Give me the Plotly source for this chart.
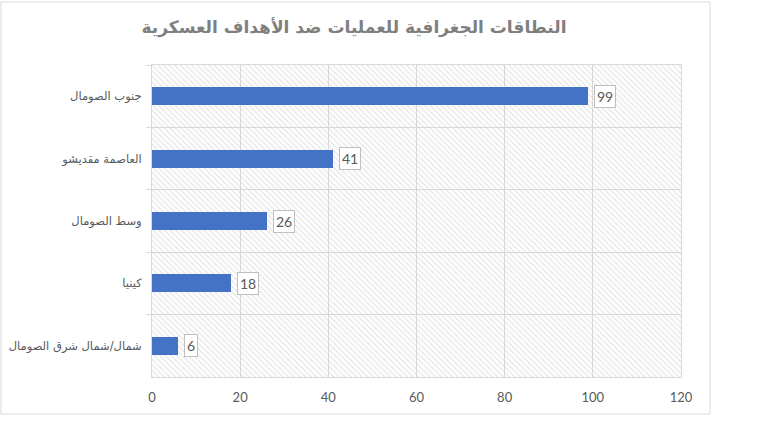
import plotly.graph_objects as go

categories = ["جنوب الصومال", "العاصمة مقديشو", "وسط الصومال", "كينيا", "شمال/شمال شرق الصومال"]
values = [99, 41, 26, 18, 6]
x_ticks = [0, 20, 40, 60, 80, 100, 120]
x_max = 120
title_text = "النطاقات الجغرافية للعمليات ضد الأهداف العسكرية"

W, H = 768, 432
L, R, T, B = 152, 87, 65, 55
pw, ph = W - L - R, H - T - B

fig = go.Figure()

# hatched background band for each category
fig.add_trace(go.Bar(
    y=categories, x=[x_max] * len(categories), orientation="h", width=1,
    marker=dict(color="rgba(0,0,0,0)", line=dict(width=0),
                pattern=dict(shape="\\", fgcolor="#cfcfcf", bgcolor="rgba(0,0,0,0)",
                             size=4, solidity=0.35)),
    hoverinfo="skip", showlegend=False,
))

fig.add_trace(go.Bar(
    y=categories, x=values, orientation="h", width=0.29,
    marker=dict(color="#4472C4", line=dict(width=0)),
    showlegend=False,
))

for c, v in zip(categories, values):
    fig.add_annotation(x=v, y=c, text=str(v), showarrow=False, xanchor="left",
                       xshift=6, bgcolor="white", bordercolor="#bfbfbf", borderwidth=1,
                       borderpad=2, font=dict(family="Lato, Open Sans", size=14, color="#595959"))

def px_x(p):
    return (p - L) / pw

def px_y(p):
    return (H - B - p) / ph

fig.add_shape(type="rect", xref="paper", yref="paper",
              x0=px_x(1), x1=px_x(710), y0=px_y(414), y1=px_y(2),
              line=dict(color="#d9d9d9", width=1), fillcolor="rgba(0,0,0,0)", layer="below")

fig.update_layout(
    width=W, height=H,
    margin=dict(l=L, r=R, t=T, b=B, autoexpand=False),
    paper_bgcolor="white", plot_bgcolor="white",
    barmode="overlay", bargap=0,
    title=dict(text="<b>" + title_text + "</b>", xref="container", x=354 / W, xanchor="center",
               yref="container", y=1 - 27 / H, yanchor="middle",
               font=dict(family="DejaVu Sans", size=17, color="#7f7f7f")),
    xaxis=dict(range=[0, x_max], tickvals=x_ticks, showgrid=True, gridcolor="#d9d9d9",
               gridwidth=1, zeroline=False, showline=True, mirror=True, linecolor="#d9d9d9",
               ticks="", tickfont=dict(family="Lato, Open Sans", size=13, color="#595959"),
               ticklabelstandoff=8, fixedrange=True, automargin=False),
    yaxis=dict(autorange="reversed", tickson="boundaries", showgrid=True, gridcolor="#d9d9d9",
               showline=True, mirror=True, linecolor="#d9d9d9", ticks="outside", ticklen=5,
               tickcolor="#d9d9d9", tickfont=dict(family="DejaVu Sans", size=11.5, color="#595959"),
               ticklabelstandoff=7, fixedrange=True, automargin=False),
)

fig.write_html("out.html", config={"displayModeBar": False},
               post_script="document.body.style.margin='0';")
